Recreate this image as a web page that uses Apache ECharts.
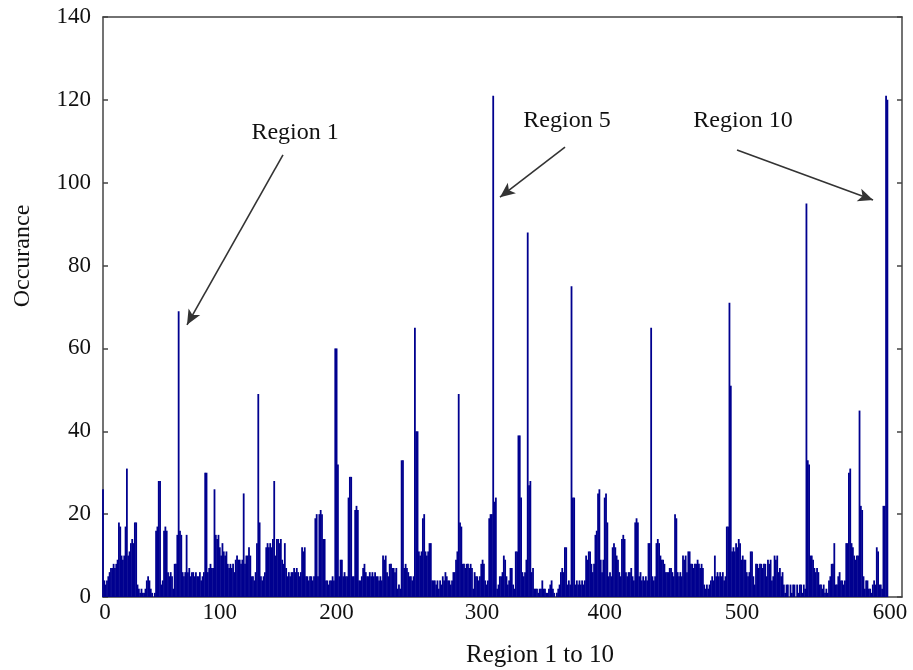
<!DOCTYPE html>
<html>
<head>
<meta charset="utf-8">
<title>Occurance</title>
<script src="https://cdn.jsdelivr.net/npm/echarts@6/dist/echarts.min.js"></script>
<style>
html, body { margin: 0; padding: 0; background: #fff; }
#myChart { width: 913px; height: 670px; }
</style>
</head>
<body>
<div id="myChart"></div>
<script>
// occurrence per bin, 50 bins per row group
const occ000 = [26, 4, 3, 4, 5, 6, 7, 7, 8, 7, 8, 9, 18, 17, 10, 9, 10, 17, 31, 10, 11, 13, 14, 13, 18, 18, 3, 2, 1, 2, 1, 1, 2, 4, 5, 4, 2, 1, 0, 1, 16, 17, 28, 28, 3, 4, 16, 17, 16, 6]
const occ050 = [5, 6, 5, 2, 8, 8, 15, 69, 16, 15, 6, 5, 6, 15, 6, 7, 5, 6, 6, 5, 6, 5, 5, 6, 4, 5, 6, 30, 30, 6, 7, 8, 7, 7, 26, 15, 14, 15, 12, 10, 13, 11, 10, 11, 8, 7, 8, 7, 8, 6]
const occ100 = [9, 10, 9, 9, 8, 9, 25, 8, 10, 10, 12, 10, 5, 5, 4, 6, 13, 49, 18, 5, 4, 5, 6, 12, 13, 12, 13, 12, 14, 28, 10, 14, 14, 13, 14, 9, 8, 13, 7, 5, 6, 5, 6, 6, 7, 6, 7, 6, 5, 6]
const occ150 = [12, 11, 12, 5, 5, 4, 5, 5, 4, 5, 19, 20, 5, 20, 21, 20, 14, 14, 4, 4, 3, 4, 4, 5, 4, 60, 60, 32, 5, 9, 9, 5, 6, 5, 5, 24, 29, 29, 5, 5, 21, 22, 21, 4, 4, 5, 7, 8, 6, 5]
const occ200 = [5, 6, 5, 6, 5, 6, 5, 5, 4, 5, 4, 10, 9, 10, 6, 5, 8, 8, 7, 7, 6, 7, 2, 3, 2, 33, 33, 7, 8, 7, 6, 5, 5, 4, 5, 65, 40, 40, 11, 10, 11, 19, 20, 11, 10, 11, 13, 13, 4, 4]
const occ250 = [4, 3, 4, 2, 4, 3, 5, 4, 6, 5, 4, 4, 3, 4, 6, 6, 9, 11, 49, 18, 17, 8, 8, 7, 8, 8, 7, 8, 7, 2, 6, 5, 5, 4, 5, 8, 9, 8, 4, 3, 4, 19, 20, 20, 121, 23, 24, 2, 3, 5]
const occ300 = [5, 6, 10, 9, 5, 3, 4, 7, 7, 3, 2, 11, 11, 39, 39, 24, 6, 5, 6, 9, 88, 27, 28, 6, 7, 2, 2, 2, 1, 2, 2, 4, 2, 2, 1, 1, 2, 3, 4, 2, 1, 0, 1, 2, 3, 6, 7, 6, 12, 12]
const occ350 = [3, 4, 3, 75, 24, 24, 3, 4, 3, 4, 3, 4, 3, 4, 10, 9, 11, 11, 8, 6, 8, 15, 16, 25, 26, 9, 6, 9, 24, 25, 18, 5, 6, 5, 12, 13, 12, 10, 9, 6, 5, 14, 15, 14, 6, 5, 6, 6, 7, 5]
const occ400 = [4, 18, 19, 18, 5, 6, 4, 5, 4, 5, 4, 13, 13, 65, 5, 4, 5, 13, 14, 13, 10, 9, 9, 8, 6, 6, 6, 7, 7, 6, 5, 20, 19, 6, 5, 6, 5, 10, 9, 10, 6, 11, 11, 8, 8, 7, 8, 8, 9, 8]
const occ450 = [7, 8, 7, 3, 2, 3, 2, 3, 4, 5, 4, 10, 5, 6, 5, 6, 5, 6, 4, 5, 17, 17, 71, 51, 11, 12, 11, 13, 12, 14, 13, 9, 10, 9, 9, 6, 5, 6, 11, 11, 5, 3, 8, 8, 7, 8, 8, 7, 8, 8]
const occ500 = [5, 9, 8, 9, 4, 5, 10, 9, 10, 6, 7, 5, 6, 3, 1, 3, 3, 0, 3, 1, 3, 3, 0, 3, 1, 3, 3, 1, 3, 2, 95, 33, 32, 10, 10, 9, 7, 6, 7, 6, 3, 3, 2, 3, 1, 2, 1, 4, 5, 8]
const occ550 = [8, 13, 3, 3, 5, 6, 4, 4, 3, 4, 13, 13, 30, 31, 13, 12, 10, 9, 10, 10, 45, 22, 21, 5, 2, 4, 4, 2, 2, 1, 3, 4, 3, 12, 11, 3, 3, 2, 22, 22, 121, 120]

const occurrence = [].concat(occ000, occ050, occ100, occ150, occ200, occ250,
  occ300, occ350, occ400, occ450, occ500, occ550)

// x labels as printed under the axis, and where each one sits
const xTickLabels = ['0', '100', '200', '300', '400', '500', '600']
const xTickAt = [1.5, 88, 176, 285.5, 378, 481.5, 593]

// arrows and their captions (axis units)
const regionNotes = [
  { name: 'Region 1', text: [144.7, 112], from: [135.6, 106.7], to: [63.3, 65.7] },
  { name: 'Region 5', text: [349.6, 115], from: [348.1, 108.6], to: [299.1, 96.5] },
  { name: 'Region 10', text: [482.2, 115], from: [477.7, 107.9], to: [580.2, 95.8] }
]

const serif = '"Liberation Serif", "Times New Roman", serif'
const frame = { show: true, onZero: false, lineStyle: { color: '#444', width: 1.5 } }
const innerTick = { show: true, inside: true, length: 5, lineStyle: { color: '#444', width: 1.5 } }

const myChart = echarts.init(document.getElementById('myChart'))

const option = {
  animation: false,
  backgroundColor: '#fff',
  grid: { left: 103, right: 11, top: 17, bottom: 73, outerBoundsMode: 'none' },
  xAxis: [
    {
      type: 'value',
      min: 0,
      max: 602,
      name: 'Region 1 to 10',
      nameLocation: 'middle',
      nameGap: 46,
      nameTextStyle: { fontFamily: serif, fontSize: 25, color: '#111', padding: [0, 0, 0, 75] },
      axisLine: frame,
      axisTick: { show: false },
      splitLine: { show: false },
      axisLabel: {
        customValues: xTickAt,
        formatter: v => xTickLabels[xTickAt.indexOf(v)],
        margin: 4,
        fontFamily: serif,
        fontSize: 23,
        color: '#111'
      }
    },
    {
      type: 'value',
      position: 'top',
      min: 0,
      max: 602,
      axisLine: frame,
      axisTick: { show: false },
      axisLabel: { show: false },
      splitLine: { show: false }
    }
  ],
  yAxis: [
    {
      type: 'value',
      min: 0,
      max: 140,
      interval: 20,
      name: 'Occurance',
      nameLocation: 'middle',
      nameGap: 68,
      nameTextStyle: { fontFamily: serif, fontSize: 24, color: '#111', padding: [0, 0, 0, 102] },
      axisLine: frame,
      axisTick: innerTick,
      splitLine: { show: false },
      axisLabel: { margin: 12, fontFamily: serif, fontSize: 23, color: '#111' }
    },
    {
      type: 'value',
      position: 'right',
      min: 0,
      max: 140,
      interval: 20,
      axisLine: frame,
      axisTick: innerTick,
      axisLabel: { show: false },
      splitLine: { show: false }
    }
  ],
  series: [
    {
      type: 'bar',
      data: occurrence.map((v, i) => [i, v]),
      barWidth: 1.8,
      itemStyle: { color: '#00008F' },
      silent: true,
      markLine: {
        silent: true,
        symbol: ['none', 'arrow'],
        symbolSize: [10, 15],
        label: { show: false },
        lineStyle: { color: '#333', width: 1.6, type: 'solid' },
        data: regionNotes.map(n => [{ coord: n.from }, { coord: n.to }])
      },
      markPoint: {
        silent: true,
        symbol: 'circle',
        symbolSize: 0,
        label: {
          show: true,
          position: 'inside',
          formatter: '{b}',
          fontFamily: serif,
          fontSize: 24,
          color: '#111'
        },
        data: regionNotes.map(n => ({ name: n.name, coord: n.text }))
      }
    }
  ]
}

myChart.setOption(option)
</script>
</body>
</html>
